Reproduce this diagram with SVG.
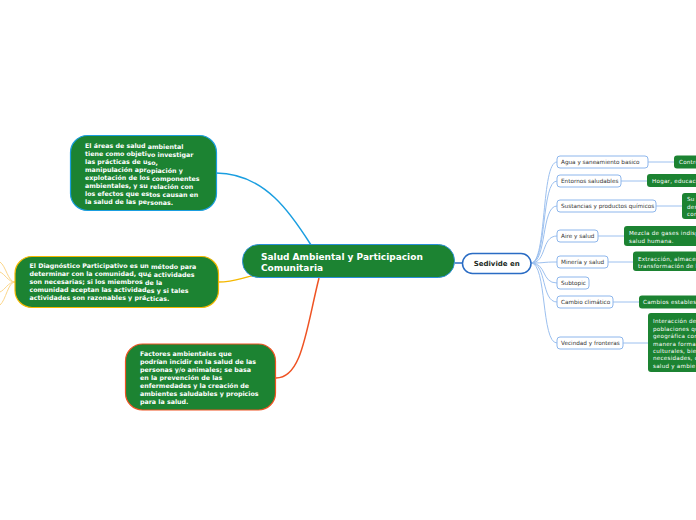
<svg xmlns="http://www.w3.org/2000/svg" width="696" height="520" viewBox="0 0 696 520">
<style>
.g{fill:#1c8332}
.bt{font-family:"DejaVu Sans",Verdana,sans-serif;font-weight:bold;font-size:6.3px;fill:#fff}
.ct{font-family:"DejaVu Sans",Verdana,sans-serif;font-weight:bold;font-size:9px;fill:#fff}
.sub{fill:#fff;stroke:#8db6ec;stroke-width:1}
.st{font-family:"DejaVu Sans",Verdana,sans-serif;font-size:5.7px;fill:#333}
.dt{font-family:"DejaVu Sans",Verdana,sans-serif;font-size:5.6px;fill:#fff;letter-spacing:0.25px}
.sc{fill:none;stroke:#9cc0ef;stroke-width:1}
</style>
<rect width="696" height="520" fill="#fff"/>
<g id="connectors" fill="none">
<path d="M216,173 C265,173 292,215 311,245" stroke="#1a9ee0" stroke-width="1.5"/>
<path d="M218,282 C236,282 240,278 256,275" stroke="#f5b800" stroke-width="1.5"/>
<path d="M276,378 C302,378 306,330 319,278" stroke="#ef5323" stroke-width="1.5"/>
<g stroke="#fbd68a" stroke-width="1">
<path d="M15,282 C8,282 6,266 0,262"/>
<path d="M15,282 C8,282 5,274 0,272"/>
<path d="M15,282 C8,282 5,290 0,292"/>
<path d="M15,282 C8,282 6,300 0,305"/>
</g>
<path d="M455,263 L462,263" stroke="#2a6cc4" stroke-width="1.5"/>
<g class="sc">
<path d="M531,263 C547,263 541,162 557,162"/>
<path d="M531,263 C547,263 541,181 557,181"/>
<path d="M531,263 C547,263 541,206 557,206"/>
<path d="M531,263 C547,263 541,236 557,236"/>
<path d="M531,263 C547,263 541,262 557,262"/>
<path d="M531,263 C547,263 541,283 557,283"/>
<path d="M531,263 C547,263 541,302 557,302"/>
<path d="M531,263 C547,263 541,343 557,343"/>
<path d="M648,162 H674"/>
<path d="M621,181 H647"/>
<path d="M656,206 H682"/>
<path d="M598,236 H624"/>
<path d="M608,262 H633"/>
<path d="M613,302 H639"/>
<path d="M623,343 H648"/>
</g>
</g>
<g id="central">
<rect x="242.5" y="244.5" width="212" height="33" rx="16" class="g" stroke="#2a8fd8" stroke-width="1"/>
<text class="ct" x="261" y="259.5">Salud Ambiental y Participacion</text>
<text class="ct" x="261" y="271">Comunitaria</text>
</g>
<g id="sedivide">
<rect x="462.5" y="253.5" width="68.5" height="20" rx="10" fill="#fff" stroke="#2a6cc4" stroke-width="1.5"/>
<text x="496.7" y="266" text-anchor="middle" font-family="DejaVu Sans, Verdana, sans-serif" font-weight="bold" font-size="7px" fill="#1d2b24">Sedivide en</text>
</g>
<g id="node-areas">
<rect x="70.5" y="135.5" width="146" height="75" rx="17" class="g" stroke="#1a9ee0" stroke-width="1.2"/>
<text class="bt">
<tspan x="85" y="148">El áreas de salud <tspan dy="1.2">ambiental</tspan></tspan>
<tspan x="85" y="156">tiene como objeti<tspan dy="1.2">vo investigar</tspan></tspan>
<tspan x="85" y="164">las prácticas de u<tspan dy="1.2">so,</tspan></tspan>
<tspan x="85" y="172">manipulación apr<tspan dy="1.2">opiación y</tspan></tspan>
<tspan x="85" y="180">explotación de los <tspan dy="1.2">componentes</tspan></tspan>
<tspan x="85" y="188">ambientales, y su <tspan dy="1.2">relación con</tspan></tspan>
<tspan x="85" y="196">los efectos que es<tspan dy="1.2">tos causan en</tspan></tspan>
<tspan x="85" y="204">la salud de las pe<tspan dy="1.2">rsonas.</tspan></tspan>
</text>
</g>
<g id="node-diagnostico">
<rect x="15" y="256.5" width="203.5" height="51" rx="17" class="g" stroke="#f5b800" stroke-width="1.2"/>
<text class="bt">
<tspan x="29.5" y="268">El Diagnóstico Participativo es un <tspan dy="1.2">método para</tspan></tspan>
<tspan x="29.5" y="276">determinar con la comunidad, qu<tspan dy="1.2">é actividades</tspan></tspan>
<tspan x="29.5" y="284">son necesarias; si los miembros <tspan dy="1.2">de la</tspan></tspan>
<tspan x="29.5" y="292">comunidad aceptan las actividad<tspan dy="1.2">es y si tales</tspan></tspan>
<tspan x="29.5" y="300">actividades son razonables y prá<tspan dy="1.2">cticas.</tspan></tspan>
</text>
</g>
<g id="node-factores">
<rect x="125.5" y="344" width="150" height="66" rx="17" class="g" stroke="#ef5323" stroke-width="1.2"/>
<text class="bt">
<tspan x="140" y="356">Factores ambientales que</tspan>
<tspan x="140" y="364">podrían incidir en la salud de las</tspan>
<tspan x="140" y="372">personas y/o animales; se basa</tspan>
<tspan x="140" y="380">en la prevención de las</tspan>
<tspan x="140" y="388">enfermedades y la creación de</tspan>
<tspan x="140" y="396">ambientes saludables y propicios</tspan>
<tspan x="140" y="404">para la salud.</tspan>
</text>
</g>
<g id="sub-agua"><rect x="557" y="156" width="91" height="12" rx="3" class="sub"/><text class="st" x="561" y="164">Agua y saneamiento basico</text></g>
<g id="sub-entornos"><rect x="557" y="175" width="64" height="12" rx="3" class="sub"/><text class="st" x="561" y="183">Entornos saludables</text></g>
<g id="sub-sustancias"><rect x="557" y="200" width="99" height="12" rx="3" class="sub"/><text class="st" x="561" y="208">Sustancias y productos químicos</text></g>
<g id="sub-aire"><rect x="557" y="230" width="41" height="12" rx="3" class="sub"/><text class="st" x="561" y="238">Aire y salud</text></g>
<g id="sub-mineria"><rect x="557" y="256" width="51" height="12" rx="3" class="sub"/><text class="st" x="561" y="264">Minería y salud</text></g>
<g id="sub-subtopic"><rect x="557" y="277" width="32" height="12" rx="3" class="sub"/><text class="st" x="561" y="285">Subtopic</text></g>
<g id="sub-cambio"><rect x="557" y="296" width="56" height="12" rx="3" class="sub"/><text class="st" x="561" y="304">Cambio climático</text></g>
<g id="sub-vecindad"><rect x="557" y="337" width="66" height="12" rx="3" class="sub"/><text class="st" x="561" y="345">Vecindad y fronteras</text></g>
<g id="desc-agua"><rect x="674" y="155.5" width="40" height="13" rx="3" class="g"/><text class="dt" x="679" y="164">Contro</text></g>
<g id="desc-entornos"><rect x="647" y="174" width="60" height="13" rx="3" class="g"/><text class="dt" x="652" y="183">Hogar, educaci</text></g>
<g id="desc-sustancias"><rect x="682" y="193" width="30" height="26" rx="3" class="g"/><text class="dt"><tspan x="687" y="200.5">Su</tspan><tspan x="687" y="208.5">des</tspan><tspan x="687" y="216">con</tspan></text></g>
<g id="desc-aire"><rect x="624" y="226" width="80" height="20" rx="3" class="g"/><text class="dt"><tspan x="629" y="235">Mezcla de gases indisp</tspan><tspan x="629" y="242.5">salud humana.</tspan></text></g>
<g id="desc-mineria"><rect x="633" y="251.5" width="70" height="19.5" rx="3" class="g"/><text class="dt"><tspan x="638" y="260.5">Extracción, almacen</tspan><tspan x="638" y="268">transformación de l</tspan></text></g>
<g id="desc-cambio"><rect x="639" y="295.5" width="65" height="13" rx="3" class="g"/><text class="dt" x="643" y="304">Cambios estables</text></g>
<g id="desc-vecindad"><rect x="648" y="313" width="60" height="59" rx="3" class="g"/><text class="dt"><tspan x="653" y="323">Interacción de</tspan><tspan x="653" y="330.5">poblaciones qu</tspan><tspan x="653" y="338">geográfica con</tspan><tspan x="653" y="345.5">manera forma</tspan><tspan x="653" y="353">culturales, bie</tspan><tspan x="653" y="360">necesidades, c</tspan><tspan x="653" y="367.5">salud y ambie</tspan></text></g>
</svg>
